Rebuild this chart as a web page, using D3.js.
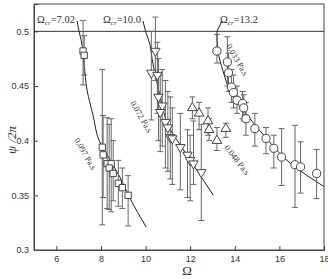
<!DOCTYPE html>
<html>
<head>
<meta charset="utf-8">
<script src="https://cdn.jsdelivr.net/npm/d3@7"></script>
<style>
  body { margin: 0; background: #fff; }
  svg { display: block; }
  .tick text { font-family: "Liberation Sans", Arial, sans-serif; font-size: 9px; fill: #333; }
  .serif { font-family: "Liberation Serif", "Times New Roman", serif; fill: #333; }
</style>
</head>
<body>
<svg width="328" height="279"></svg>
<script>
// open squares, 0.097 Pa.s : [omega, psi/2pi, low, high]
const sq097 = [
  [7.20, 0.482, 0.451, 0.510],
  [7.25, 0.478, 0.460, 0.496],
  [8.06, 0.394, 0.323, 0.465],
  [8.10, 0.387, 0.348, 0.423],
  [8.28, 0.379, 0.338, 0.421],
  [8.46, 0.379, 0.335, 0.420],
  [8.37, 0.375, 0.337, 0.415],
  [8.55, 0.370, 0.345, 0.400],
  [8.78, 0.361, 0.340, 0.382],
  [8.96, 0.357, 0.338, 0.375],
  [9.22, 0.350, 0.322, 0.368]
];
// down triangles, 0.072 Pa.s
const tri072 = [
  [10.44, 0.482, 0.455, 0.513],
  [10.26, 0.462, 0.419, 0.500],
  [10.53, 0.460, 0.425, 0.490],
  [10.58, 0.440, 0.400, 0.475],
  [10.75, 0.432, 0.395, 0.465],
  [10.66, 0.426, 0.390, 0.460],
  [10.89, 0.417, 0.375, 0.455],
  [11.00, 0.412, 0.372, 0.445],
  [11.11, 0.403, 0.365, 0.440],
  [11.20, 0.402, 0.360, 0.430],
  [11.56, 0.394, 0.355, 0.425],
  [11.88, 0.387, 0.348, 0.410],
  [12.00, 0.382, 0.345, 0.405],
  [12.15, 0.379, 0.360, 0.418],
  [12.50, 0.371, 0.327, 0.415]
];
// up triangles, 0.048 Pa.s
const tri048 = [
  [12.10, 0.430, 0.420, 0.440],
  [12.40, 0.425, 0.410, 0.435],
  [12.80, 0.418, 0.405, 0.430],
  [12.85, 0.410, 0.400, 0.420],
  [13.20, 0.400, 0.391, 0.412],
  [13.60, 0.411, 0.403, 0.416]
];
// circles, 0.033 Pa.s
const circ033 = [
  [13.20, 0.482, 0.471, 0.497],
  [13.67, 0.472, 0.450, 0.495],
  [13.72, 0.462, 0.445, 0.480],
  [13.85, 0.449, 0.435, 0.465],
  [13.94, 0.444, 0.430, 0.460],
  [14.10, 0.437, 0.425, 0.450],
  [14.35, 0.434, 0.420, 0.445],
  [14.40, 0.430, 0.418, 0.442],
  [14.50, 0.420, 0.405, 0.435],
  [14.90, 0.411, 0.395, 0.425],
  [15.40, 0.402, 0.388, 0.412],
  [15.75, 0.393, 0.375, 0.405],
  [16.10, 0.385, 0.359, 0.411],
  [16.70, 0.378, 0.339, 0.414],
  [16.95, 0.376, 0.352, 0.399],
  [17.67, 0.370, 0.347, 0.392]
];
// fitted curves
const fit097 = [[7.02,0.5],[7.16,0.487],[7.25,0.469],[7.38,0.446],[7.65,0.423],[7.92,0.400],[8.42,0.382],[8.87,0.366],[9.31,0.347],[10.03,0.321]];
const fit072 = [[10.0,0.5],[10.21,0.487],[10.30,0.474],[10.44,0.460],[10.66,0.440],[11.11,0.410],[11.43,0.400],[12.01,0.382],[12.46,0.368],[13.04,0.350]];
const fit033 = [[13.2,0.5],[13.24,0.483],[13.47,0.464],[13.93,0.440],[14.38,0.428],[15.38,0.403],[16.51,0.379],[18.0,0.358]];

const xMajor = [6, 8, 10, 12, 14, 16, 18];
const yMajor = [0.3, 0.35, 0.4, 0.45, 0.5];
const crit = [7.02, 10.0, 13.2];

const svg = d3.select("svg");
const x = d3.scaleLinear().domain([5, 18]).range([34, 324]);
const y = d3.scaleLinear().domain([0.3, 0.525]).range([250, 4]);

// frame
svg.append("rect")
  .attr("x", 34).attr("y", 4).attr("width", 290).attr("height", 246)
  .attr("fill", "none").attr("stroke", "#444").attr("stroke-width", 1);

// axes
const gx = svg.append("g").attr("transform", "translate(0,250)");
gx.call(d3.axisBottom(x).tickValues(d3.range(5, 18.01, 0.5)).tickSize(-2).tickFormat(""));
gx.call(d3.axisBottom(x).tickValues(xMajor).tickSize(-4).tickPadding(6).tickFormat(d3.format("d")));
gx.selectAll(".domain").attr("stroke", "#444");
gx.selectAll("line").attr("stroke", "#444");

const gy = svg.append("g").attr("transform", "translate(34,0)");
gy.call(d3.axisLeft(y).tickValues(d3.range(0.3, 0.5251, 0.01)).tickSize(-2).tickFormat(""));
gy.call(d3.axisLeft(y).tickValues(yMajor).tickSize(-4).tickPadding(5).tickFormat(d => d3.format("")(+d.toFixed(2))));
gy.selectAll(".domain").attr("stroke", "#444");
gy.selectAll("line").attr("stroke", "#444");

// psi/2pi = 0.5 line
svg.append("line")
  .attr("x1", x(5)).attr("x2", x(18)).attr("y1", y(0.5)).attr("y2", y(0.5))
  .attr("stroke", "#333");

// fitted curves
const line = d3.line().x(d => x(d[0])).y(d => y(d[1])).curve(d3.curveMonotoneY);
[fit097, fit072, fit033].forEach(f => {
  svg.append("path").attr("d", line(f)).attr("fill", "none").attr("stroke", "#222").attr("stroke-width", 1);
});

// error bars
function errorBars(data) {
  const g = svg.append("g").attr("stroke", "#666").attr("stroke-width", 1);
  g.selectAll("line.bar").data(data).join("line")
    .attr("x1", d => x(d[0])).attr("x2", d => x(d[0]))
    .attr("y1", d => y(d[2])).attr("y2", d => y(d[3]));
  g.selectAll("line.lo").data(data).join("line").classed("lo", true)
    .attr("x1", d => x(d[0]) - 3).attr("x2", d => x(d[0]) + 3)
    .attr("y1", d => y(d[2])).attr("y2", d => y(d[2]));
  g.selectAll("line.hi").data(data).join("line").classed("hi", true)
    .attr("x1", d => x(d[0]) - 3).attr("x2", d => x(d[0]) + 3)
    .attr("y1", d => y(d[3])).attr("y2", d => y(d[3]));
}
[sq097, tri072, tri048, circ033].forEach(errorBars);

// markers
function markers(data, type, size) {
  svg.append("g").selectAll("path").data(data).join("path")
    .attr("transform", d => `translate(${x(d[0])},${y(d[1])})` + (type === "down" ? " rotate(180)" : ""))
    .attr("d", d3.symbol().type(type === "square" ? d3.symbolSquare : type === "circle" ? d3.symbolCircle : d3.symbolTriangle).size(size))
    .attr("fill", "#fff").attr("stroke", "#444").attr("stroke-width", 1);
}
markers(sq097, "square", 40);
markers(tri072, "down", 38);
markers(tri048, "up", 40);
markers(circ033, "circle", 52);

// critical omega labels
const labelPos = [[37, 23], [103, 23], [220, 23]];
crit.forEach((c, i) => {
  const t = svg.append("text").attr("class", "serif").attr("x", labelPos[i][0]).attr("y", labelPos[i][1]).attr("font-size", 10.5);
  t.append("tspan").text("Ω");
  t.append("tspan").attr("font-size", 7).attr("font-style", "italic").attr("dy", 2).text("cr");
  t.append("tspan").attr("dy", -2).text("=" + (c === 10 ? "10.0" : c));
  const lx = i === 2 ? labelPos[i][0] + 2 : labelPos[i][0] + 40;
  svg.append("line").attr("x1", lx).attr("y1", 21).attr("x2", x(c)).attr("y2", y(0.5))
    .attr("stroke", "#222");
});

// viscosity labels
const visc = [["0.097 Pa.s", 74, 140, 60], ["0.072 Pa.s", 130, 103, 60], ["0.033 Pa.s", 226, 46, 60], ["0.048 Pa.s", 224, 148, 52]];
visc.forEach(v => {
  svg.append("text").attr("class", "serif").attr("font-size", 8.5)
    .attr("transform", `translate(${v[1]},${v[2]}) rotate(${v[3]})`).text(v[0]);
});

// axis titles
svg.append("text").attr("class", "serif").attr("font-size", 13).attr("font-style", "italic")
  .attr("text-anchor", "middle").attr("transform", "translate(16,140) rotate(-90)").text("ψ /2π");
svg.append("text").attr("class", "serif").attr("font-size", 13)
  .attr("text-anchor", "middle").attr("x", 187).attr("y", 275).text("Ω");
</script>
</body>
</html>
